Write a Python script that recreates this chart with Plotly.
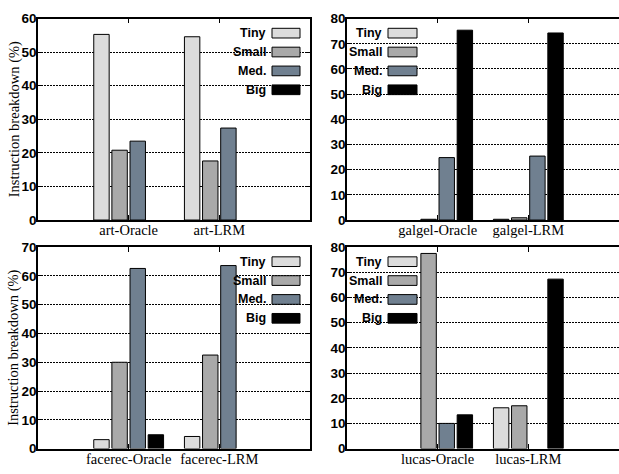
import plotly.graph_objects as go

# ---- data -------------------------------------------------------------
series_names = ["Tiny", "Small", "Med.", "Big"]
series_colors = ["#dcdcdc", "#a9a9a9", "#708090", "#000000"]

art_cats = ["art-Oracle", "art-LRM"]
art_tiny = [55.3, 54.6]
art_small = [20.8, 17.6]
art_med = [23.5, 27.4]
art_big = [0.0, 0.0]

galgel_cats = ["galgel-Oracle", "galgel-LRM"]
galgel_tiny = [0.0, 0.3]
galgel_small = [0.3, 0.9]
galgel_med = [24.8, 25.4]
galgel_big = [75.4, 74.3]

facerec_cats = ["facerec-Oracle", "facerec-LRM"]
facerec_tiny = [3.1, 4.2]
facerec_small = [30.0, 32.5]
facerec_med = [62.6, 63.6]
facerec_big = [4.8, 0.0]

lucas_cats = ["lucas-Oracle", "lucas-LRM"]
lucas_tiny = [0.0, 16.2]
lucas_small = [77.5, 17.0]
lucas_med = [10.0, 0.0]
lucas_big = [13.4, 67.3]

y_max = [60, 80, 70, 80]
y_title = "Instruction breakdown (%)"

# ---- layout geometry (pixels) ------------------------------------------
W, H = 619, 474
col_px = [(38, 310), (347, 619)]
row_px = [(12, 220), (248, 456)]


def px_x(v):
    return v / W


def px_y(v):
    return 1 - v / H


panels = [
    (art_cats, [art_tiny, art_small, art_med, art_big], 0, 0, "right"),
    (galgel_cats, [galgel_tiny, galgel_small, galgel_med, galgel_big], 0, 1, "left"),
    (facerec_cats, [facerec_tiny, facerec_small, facerec_med, facerec_big], 1, 0, "right"),
    (lucas_cats, [lucas_tiny, lucas_small, lucas_med, lucas_big], 1, 1, "left"),
]

fig = go.Figure()
shapes = []
annotations = []

tick_font = dict(family="Liberation Sans", size=13.5, color="black")
cat_font = dict(family="Liberation Serif", size=14.5, color="black")
key_font = dict(family="Liberation Sans", size=12.5, color="black")

for i, (cats, vals, r, c, key_side) in enumerate(panels):
    n = "" if i == 0 else str(i + 1)
    xa, ya = "x" + n, "y" + n
    for name, color, v in zip(series_names, series_colors, vals):
        fig.add_trace(go.Bar(
            x=cats, y=v, name=name, xaxis=xa, yaxis=ya,
            marker=dict(color=color,
                        line=dict(color="black", width=[1 if val > 0 else 0 for val in v])),
            showlegend=False,
        ))

    x0, x1 = col_px[c]
    y0, y1 = row_px[r]
    right_col = c == 1
    ticks_y = list(range(0, y_max[i] + 1, 10))
    fig.update_layout(**{
        "xaxis" + n: dict(
            domain=[px_x(x0), min(px_x(x1), 1.0)], anchor=ya,
            type="category", range=[-1, 2],
            showline=True, linecolor="black", linewidth=1.5, mirror="ticks",
            ticks="inside", ticklen=5, tickcolor="black", tickwidth=1,
            showgrid=False, tickfont=cat_font, ticklabelstandoff=-4,
            fixedrange=True,
        ),
        "yaxis" + n: dict(
            domain=[px_y(y1), px_y(y0)], anchor=xa,
            range=[0, y_max[i]],
            tickvals=ticks_y, ticktext=[f"<b>{t}</b>" for t in ticks_y],
            showline=True, linecolor="black", linewidth=1.5,
            mirror=False if right_col else "ticks",
            ticks="inside", ticklen=5, tickcolor="black", tickwidth=1,
            showgrid=True, gridcolor="black", gridwidth=1, griddash="1.5px,1.5px",
            zeroline=False, tickfont=tick_font, ticklabelstandoff=-3,
            fixedrange=True,
        ),
    })

    # opaque key with swatches on the right (left column) or left (right column)
    if key_side == "right":
        sw0, sw1 = x1 - 38, x1 - 10
        box0, box1 = x1 - 78, x1 - 8
    else:
        sw0, sw1 = x0 + 41, x0 + 70
        box0, box1 = x0 + 6, x0 + 73
    shapes.append(dict(
        type="rect", xref="paper", yref="paper", layer="between",
        x0=px_x(box0), x1=px_x(box1), y0=px_y(y0 + 85), y1=px_y(y0 + 1),
        fillcolor="white", line=dict(width=0),
    ))
    for k, (name, color) in enumerate(zip(series_names, series_colors)):
        cy = y0 + 15 + 19.5 * k
        shapes.append(dict(
            type="rect", xref="paper", yref="paper", layer="above",
            x0=px_x(sw0), x1=px_x(sw1), y0=px_y(cy + 5), y1=px_y(cy - 5),
            fillcolor=color, line=dict(color="black", width=1),
        ))
        annotations.append(dict(
            text=f"<b>{name}</b>", xref="paper", yref="paper", showarrow=False,
            x=px_x(sw0 - 5), y=px_y(cy), xanchor="right", yanchor="middle",
            font=key_font, borderpad=0,
        ))

    if c == 0:
        annotations.append(dict(
            text=y_title, xref="paper", yref="paper", showarrow=False,
            x=px_x(14), y=px_y((y0 + y1) / 2), xanchor="center", yanchor="middle",
            textangle=-90, font=dict(family="Liberation Serif", size=14.5, color="black"),
        ))

fig.update_layout(
    width=W, height=H, margin=dict(l=0, r=0, t=0, b=0),
    paper_bgcolor="white", plot_bgcolor="white",
    barmode="group", bargap=0.2, bargroupgap=0.15,
    shapes=shapes, annotations=annotations, showlegend=False,
)

fig.write_html("out.html", config={"displayModeBar": False})
